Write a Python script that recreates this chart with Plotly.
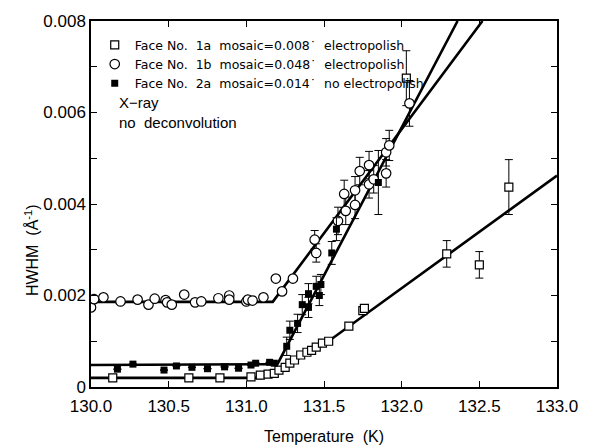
import plotly.graph_objects as go

# ---- data ----
# Face No. 1a (open squares)
t_1a = [130.14, 130.63, 130.83, 131.03, 131.09, 131.14, 131.18, 131.21, 131.25, 131.28,
        131.31, 131.35, 131.39, 131.42, 131.45, 131.49, 131.53, 131.66, 131.75, 131.76,
        132.03, 132.29, 132.50, 132.69]
w_1a = [0.00020, 0.00020, 0.00020, 0.00022, 0.00026, 0.00028, 0.00030, 0.00037, 0.00043, 0.00052,
        0.00059, 0.00070, 0.00076, 0.00080, 0.00087, 0.00096, 0.00100, 0.00133, 0.00167, 0.00172,
        0.00675, 0.00291, 0.00267, 0.00437]
e_1a = [0, 0, 0, 0, 0, 0, 0, 0, 0, 0,
        0, 0, 0, 0, 0, 0, 0, 0, 0, 0,
        0.0006, 0.00029, 0.00029, 0.0006]

# Face No. 1b (open circles)
t_1b = [130.00, 130.02, 130.08, 130.19, 130.30, 130.37, 130.41, 130.48, 130.49, 130.52,
        130.60, 130.67, 130.71, 130.82, 130.89, 130.89, 131.00, 131.01, 131.04, 131.11,
        131.19, 131.23, 131.30, 131.44, 131.45, 131.59, 131.63, 131.64, 131.70, 131.70,
        131.73, 131.79, 131.79, 131.82, 131.90, 131.90, 131.92, 132.05]
w_1b = [0.00174, 0.00192, 0.00196, 0.00187, 0.00191, 0.00180, 0.00193, 0.00190, 0.00185, 0.00180,
        0.00202, 0.00185, 0.00187, 0.00194, 0.00200, 0.00191, 0.00187, 0.00191, 0.00189, 0.00196,
        0.00237, 0.00209, 0.00237, 0.00322, 0.00293, 0.00363, 0.00422, 0.00385, 0.00398, 0.00430,
        0.00472, 0.00443, 0.00485, 0.00454, 0.00467, 0.00513, 0.00528, 0.00620]
e_1b = [0] * 23 + [0.0002, 0.0002, 0.0003, 0.0003, 0.0003, 0.0003, 0.0003,
                   0.0003, 0.0003, 0.0003, 0.0003, 0.0003, 0.0003, 0.00033, 0.0005]

# Face No. 2a (filled squares)
t_2a = [130.17, 130.27, 130.47, 130.55, 130.65, 130.75, 130.86, 130.95, 131.03, 131.06,
        131.15, 131.18, 131.26, 131.28, 131.33, 131.36, 131.40, 131.40, 131.45, 131.47,
        131.48, 131.55, 131.58, 131.85]
w_2a = [0.00039, 0.00050, 0.00037, 0.00046, 0.00043, 0.00040, 0.00044, 0.00041, 0.00048, 0.00052,
        0.00054, 0.00052, 0.00089, 0.00124, 0.00139, 0.00180, 0.00174, 0.00204, 0.00220, 0.00200,
        0.00224, 0.00293, 0.00345, 0.00447]
e_2a = [0] * 12 + [0.0002, 0.0002, 0.0002, 0.00022, 0.00022, 0.00022, 0.00022, 0.00022,
                   0.00022, 0.00025, 0.00025, 0.0007]

# fitted curves (knots)
fit_1a_t = [130.0, 131.10, 131.20, 131.30, 131.40, 131.50, 133.0]
fit_1a_w = [0.00020, 0.00020, 0.00033, 0.00055, 0.00075, 0.00093, 0.00462]
fit_1b_t = [130.0, 131.17, 132.52]
fit_1b_w = [0.00186, 0.00186, 0.0080]
fit_2a_t = [130.0, 131.20, 132.36]
fit_2a_w = [0.00048, 0.00050, 0.0080]

legend_names = ["Face\u00a0No.\u00a0\u00a01a\u00a0\u00a0mosaic=0.008\u02d9\u00a0\u00a0electropolish",
                "Face\u00a0No.\u00a0\u00a01b\u00a0\u00a0mosaic=0.048\u02d9\u00a0\u00a0electropolish",
                "Face\u00a0No.\u00a0\u00a02a\u00a0\u00a0mosaic=0.014\u02d9\u00a0\u00a0no\u00a0electropolish"]

x_ticks = [130.0, 130.5, 131.0, 131.5, 132.0, 132.5, 133.0]
x_ticktext = ["130.0", "130.5", "131.0", "131.5", "132.0", "132.5", "133.0"]
y_ticks = [0, 0.002, 0.004, 0.006, 0.008]
y_ticktext = ["0", "0.002", "0.004", "0.006", "0.008"]

TICKFONT = dict(family="Liberation Sans", size=17, color="black")

fig = go.Figure()

for tt, ww in [(fit_1a_t, fit_1a_w), (fit_1b_t, fit_1b_w), (fit_2a_t, fit_2a_w)]:
    fig.add_trace(go.Scatter(x=tt, y=ww, mode="lines", line=dict(color="black", width=2.6),
                             showlegend=False, hoverinfo="skip"))

err_style = dict(type="data", color="black", thickness=1, width=4)

fig.add_trace(go.Scatter(
    x=t_1a, y=w_1a, mode="markers", name=legend_names[0],
    marker=dict(symbol="square", size=8, color="white", line=dict(color="black", width=1.2)),
    error_y=dict(array=e_1a, **err_style)))
fig.add_trace(go.Scatter(
    x=t_1b, y=w_1b, mode="markers", name=legend_names[1],
    marker=dict(symbol="circle", size=9.5, color="white", line=dict(color="black", width=1.2)),
    error_y=dict(array=e_1b, **err_style)))
fig.add_trace(go.Scatter(
    x=t_2a, y=w_2a, mode="markers", name=legend_names[2],
    marker=dict(symbol="square", size=7, color="black", line=dict(color="black", width=0)),
    error_y=dict(array=e_2a, **err_style)))

fig.update_layout(
    width=590, height=447,
    margin=dict(l=91, r=22, t=19, b=60),
    paper_bgcolor="white", plot_bgcolor="white",
    font=dict(family="Liberation Sans, Arial, sans-serif", color="black"),
    showlegend=True,
    legend=dict(x=0.008, y=0.975, xanchor="left", yanchor="top",
                bgcolor="rgba(0,0,0,0)", borderwidth=0,
                font=dict(family="DejaVu Sans", size=12.5, color="black"),
                tracegroupgap=0, itemsizing="trace"),
    xaxis=dict(range=[130, 133], tickvals=x_ticks, ticktext=x_ticktext,
               ticks="inside", ticklen=6, tickwidth=1, tickcolor="black",
               showline=True, linecolor="black", linewidth=1.5, mirror="ticks",
               showgrid=False, zeroline=False, tickfont=TICKFONT,
               ticklabeloverflow="allow", ticklabelstandoff=3),
    yaxis=dict(range=[0, 0.008], tickvals=y_ticks, ticktext=y_ticktext,
               ticks="inside", ticklen=6, tickwidth=1, tickcolor="black",
               minor=dict(dtick=0.001, ticks="inside", ticklen=6, tickcolor="black", tickwidth=1),
               showline=True, linecolor="black", linewidth=1.5, mirror="ticks",
               showgrid=False, zeroline=False, tickfont=TICKFONT),
    annotations=[
        dict(text="Temperature  (K)", xref="paper", yref="paper", x=0.5, y=-0.136,
             xanchor="center", yanchor="middle", showarrow=False,
             font=dict(family="Liberation Sans", size=16, color="black")),
        dict(text="HWHM  (Å<sup>-1</sup>)", xref="paper", yref="paper", x=-0.128, y=0.375,
             xanchor="center", yanchor="middle", textangle=-90, showarrow=False,
             font=dict(family="Liberation Sans", size=16, color="black")),
        dict(text="X\u2212ray<br>no  deconvolution", xref="paper", yref="paper",
             x=(118 - 91) / 477, y=(387 - 90) / 368, xanchor="left", yanchor="top",
             align="left", showarrow=False,
             font=dict(family="Liberation Sans", size=15, color="black")),
    ],
)

fig.write_html("out.html")
